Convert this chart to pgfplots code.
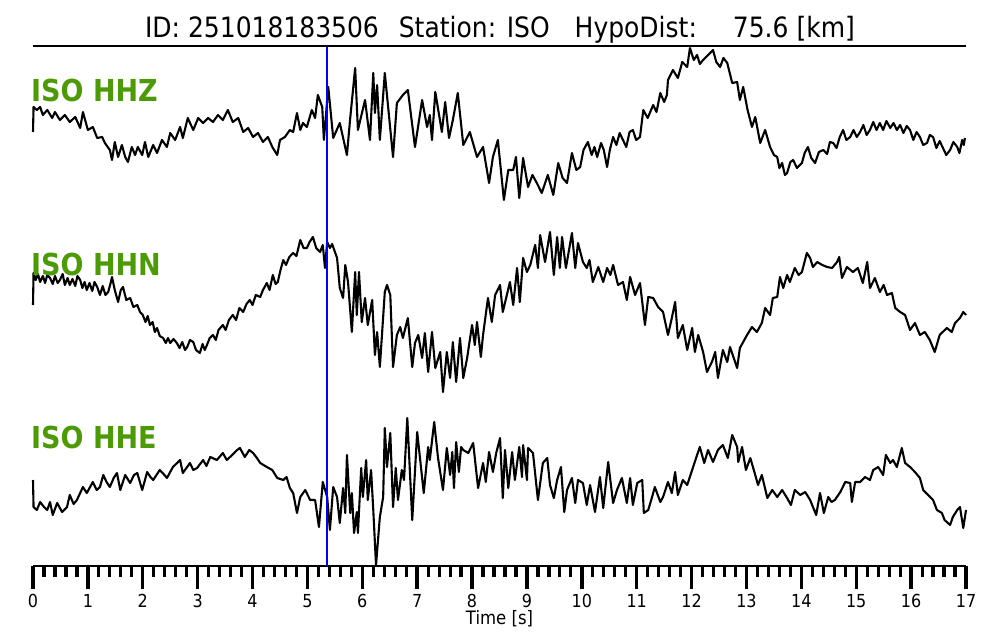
\documentclass[border=0pt]{standalone}
\usepackage{pgfplots}
\usepackage{pgfplotstable}
\usepackage{fontspec}
\setmainfont{DejaVu Sans}
\pgfplotsset{compat=1.18}
\definecolor{labgreen}{RGB}{76,154,6}

\pgfplotstableread{
t y
0.00 508
0.01 533
0.07 530
0.13 533
0.18 525
0.26 530
0.35 522
0.40 528
0.49 520
0.58 525
0.67 518
0.77 523
0.86 512
0.91 528
1.00 510
1.09 513
1.17 502
1.26 503
1.31 497
1.40 490
1.44 480
1.49 498
1.55 483
1.62 495
1.68 483
1.73 478
1.80 493
1.86 485
1.91 493
1.99 485
2.04 498
2.10 483
2.19 495
2.26 487
2.35 500
2.44 493
2.50 507
2.59 500
2.68 513
2.73 502
2.82 522
2.92 510
3.01 522
3.10 517
3.19 522
3.28 518
3.37 525
3.46 520
3.55 530
3.64 518
3.74 522
3.83 508
3.92 512
4.01 503
4.10 507
4.19 498
4.28 503
4.36 493
4.45 485
4.50 500
4.59 503
4.68 510
4.74 508
4.81 527
4.87 510
4.92 517
4.99 513
5.08 530
5.14 522
5.19 545
5.27 533
5.30 500
5.38 553
5.47 502
5.59 517
5.72 485
5.78 522
5.87 572
5.92 510
6.05 540
6.14 500
6.20 567
6.23 527
6.27 555
6.32 500
6.41 567
6.56 483
6.63 537
6.74 545
6.83 550
6.96 493
7.09 540
7.18 513
7.23 525
7.27 500
7.33 548
7.45 508
7.51 538
7.58 502
7.65 520
7.74 547
7.84 495
7.96 508
8.09 483
8.20 493
8.31 457
8.38 483
8.47 500
8.58 440
8.66 470
8.75 470
8.80 483
8.86 442
8.93 482
9.02 453
9.10 465
9.18 457
9.27 447
9.38 465
9.48 445
9.57 477
9.65 462
9.73 457
9.82 487
9.90 470
9.97 473
10.03 490
10.11 498
10.18 485
10.23 493
10.28 483
10.35 497
10.40 490
10.46 473
10.51 490
10.57 503
10.63 495
10.69 507
10.75 500
10.81 493
10.87 508
10.93 510
10.99 500
11.06 503
11.12 530
11.20 522
11.30 535
11.36 528
11.43 547
11.50 538
11.55 545
11.57 560
11.66 570
11.75 562
11.83 578
11.92 573
11.97 592
12.04 580
12.10 585
12.15 576
12.21 580
12.30 585
12.39 590
12.45 578
12.52 573
12.58 582
12.65 577
12.74 557
12.83 558
12.88 540
12.94 553
13.02 530
13.10 513
13.16 523
13.25 497
13.34 510
13.43 493
13.50 485
13.56 483
13.60 472
13.65 477
13.70 465
13.74 467
13.80 478
13.85 480
13.92 472
14.01 477
14.06 487
14.12 493
14.18 482
14.25 477
14.32 488
14.40 490
14.47 486
14.52 498
14.58 497
14.64 492
14.70 503
14.76 510
14.82 500
14.89 503
14.95 510
15.01 503
15.07 508
15.13 515
15.19 505
15.25 510
15.31 518
15.37 510
15.43 517
15.49 510
15.55 519
15.62 512
15.68 517
15.74 510
15.80 515
15.86 507
15.92 514
15.98 510
16.04 500
16.10 508
16.16 503
16.22 495
16.29 497
16.34 505
16.40 503
16.46 492
16.52 499
16.58 492
16.64 485
16.71 490
16.77 498
16.84 493
16.88 487
16.93 500
16.96 495
16.98 502
}\hhz

\pgfplotstableread{
t y
0.00 335
0.01 367
0.05 360
0.09 366
0.13 358
0.18 364
0.22 357
0.26 365
0.31 362
0.36 356
0.40 364
0.45 357
0.49 360
0.54 366
0.58 355
0.63 362
0.67 355
0.72 361
0.77 354
0.81 364
0.86 360
0.90 352
0.94 358
0.98 350
1.03 357
1.08 349
1.12 358
1.17 353
1.22 345
1.27 354
1.32 345
1.37 348
1.41 356
1.44 363
1.49 350
1.55 338
1.60 350
1.64 353
1.70 340
1.77 342
1.83 333
1.90 335
1.95 328
2.00 325
2.05 318
2.09 324
2.13 315
2.18 318
2.22 308
2.26 312
2.31 304
2.37 302
2.42 297
2.46 302
2.50 297
2.56 301
2.62 297
2.67 292
2.72 298
2.77 290
2.81 293
2.86 300
2.92 298
2.97 290
3.04 287
3.09 296
3.13 290
3.17 295
3.22 302
3.28 305
3.33 300
3.38 310
3.46 315
3.51 310
3.57 320
3.64 325
3.70 320
3.76 332
3.83 328
3.89 336
3.95 340
4.00 335
4.06 345
4.14 343
4.19 350
4.26 357
4.31 350
4.37 365
4.42 356
4.46 358
4.51 370
4.56 380
4.61 375
4.67 383
4.74 387
4.80 384
4.87 400
4.93 392
4.99 392
5.04 398
5.10 403
5.16 392
5.23 388
5.28 395
5.32 372
5.36 398
5.41 392
5.45 396
5.54 382
5.59 352
5.65 342
5.69 375
5.74 358
5.81 308
5.87 368
5.90 325
5.94 368
5.99 318
6.05 342
6.10 315
6.18 340
6.23 285
6.27 308
6.32 273
6.41 348
6.45 355
6.51 345
6.56 273
6.63 305
6.69 313
6.74 302
6.83 322
6.91 273
6.96 297
7.02 305
7.09 282
7.14 307
7.20 268
7.27 308
7.33 272
7.42 288
7.47 248
7.54 288
7.60 262
7.65 298
7.71 258
7.78 302
7.84 262
7.91 282
8.00 315
8.05 295
8.09 318
8.16 283
8.20 305
8.29 342
8.36 318
8.42 345
8.51 355
8.56 328
8.69 358
8.75 335
8.82 372
8.87 338
8.93 382
9.00 368
9.06 375
9.15 395
9.20 372
9.24 405
9.33 378
9.42 408
9.49 365
9.55 403
9.60 372
9.64 403
9.71 372
9.82 407
9.88 372
9.93 397
10.02 378
10.09 372
10.14 380
10.20 358
10.30 373
10.39 358
10.46 372
10.52 365
10.57 375
10.66 355
10.75 358
10.82 340
10.88 363
10.97 345
11.06 357
11.15 315
11.21 343
11.30 342
11.39 333
11.48 328
11.57 305
11.64 322
11.70 338
11.75 302
11.84 315
11.92 290
12.01 312
12.06 288
12.12 305
12.21 288
12.28 268
12.37 278
12.43 288
12.48 262
12.57 290
12.65 278
12.70 293
12.83 272
12.88 292
12.94 298
13.01 305
13.10 313
13.19 308
13.28 317
13.34 332
13.43 325
13.48 342
13.56 343
13.61 363
13.67 352
13.74 365
13.79 358
13.88 372
13.95 365
14.01 368
14.10 387
14.16 382
14.21 373
14.29 378
14.38 375
14.47 373
14.56 372
14.65 378
14.69 383
14.74 362
14.83 373
14.94 368
15.03 372
15.12 357
15.20 378
15.25 352
15.34 362
15.43 348
15.50 355
15.56 345
15.65 347
15.71 332
15.80 328
15.89 325
15.98 310
16.07 317
16.16 305
16.25 308
16.34 300
16.43 288
16.52 305
16.65 312
16.74 308
16.80 317
16.89 322
16.95 328
17.00 325
}\hhn

\pgfplotstableread{
t y
0.00 160
0.01 133
0.07 130
0.13 138
0.20 133
0.26 130
0.31 138
0.36 125
0.44 137
0.53 128
0.62 133
0.67 145
0.74 136
0.80 140
0.91 153
0.98 147
1.09 158
1.16 150
1.22 153
1.28 165
1.34 158
1.40 153
1.47 162
1.53 167
1.59 150
1.68 165
1.77 157
1.84 165
1.90 167
1.99 150
2.08 168
2.14 163
2.19 160
2.31 170
2.38 166
2.44 162
2.55 173
2.68 180
2.73 167
2.86 177
2.92 170
2.99 172
3.10 180
3.16 174
3.23 183
3.35 180
3.46 187
3.53 180
3.59 183
3.72 190
3.77 192
3.86 183
3.94 190
4.01 187
4.08 182
4.14 177
4.26 173
4.36 170
4.45 162
4.56 160
4.62 163
4.68 152
4.74 147
4.81 127
4.87 143
4.96 150
5.05 140
5.14 140
5.21 113
5.28 158
5.36 143
5.41 110
5.47 153
5.54 143
5.59 117
5.65 152
5.69 127
5.72 185
5.78 127
5.81 147
5.85 107
5.90 128
5.92 107
5.98 172
6.01 143
6.07 180
6.10 140
6.16 170
6.20 130
6.25 75
6.32 123
6.38 143
6.41 212
6.45 173
6.51 207
6.56 133
6.61 172
6.65 140
6.72 170
6.76 160
6.82 222
6.91 120
7.00 208
7.12 147
7.20 193
7.23 180
7.31 218
7.38 182
7.47 150
7.54 192
7.60 165
7.64 188
7.67 152
7.71 198
7.76 168
7.80 193
7.84 190
7.93 187
8.02 197
8.11 152
8.20 177
8.25 158
8.31 188
8.38 168
8.44 187
8.51 202
8.56 142
8.60 190
8.66 152
8.73 188
8.78 160
8.86 193
8.91 163
8.93 195
9.00 160
9.02 192
9.11 187
9.20 140
9.29 177
9.37 182
9.42 155
9.49 142
9.55 160
9.62 173
9.68 128
9.73 150
9.82 162
9.88 137
9.93 160
10.02 157
10.09 135
10.15 155
10.24 128
10.33 163
10.39 132
10.48 178
10.57 137
10.64 150
10.73 162
10.82 137
10.88 162
10.93 135
11.01 157
11.10 160
11.13 127
11.21 130
11.28 143
11.33 153
11.43 138
11.48 143
11.57 158
11.64 147
11.70 168
11.75 145
11.84 160
11.92 155
12.01 170
12.10 185
12.15 193
12.23 177
12.30 190
12.39 178
12.48 190
12.57 195
12.66 182
12.74 205
12.83 193
12.85 178
12.92 193
12.99 170
13.07 182
13.16 165
13.21 155
13.28 165
13.38 142
13.47 150
13.56 143
13.65 150
13.74 142
13.81 135
13.88 150
13.98 145
14.07 148
14.16 140
14.27 125
14.34 147
14.41 127
14.49 143
14.55 138
14.61 140
14.71 148
14.80 158
14.89 157
14.92 138
14.98 158
15.07 158
15.16 163
15.25 160
15.31 170
15.40 173
15.49 165
15.54 185
15.62 177
15.67 180
15.74 173
15.83 192
15.89 177
15.98 173
16.07 168
16.16 162
16.22 150
16.31 145
16.40 140
16.47 130
16.56 127
16.61 120
16.71 115
16.76 123
16.84 130
16.89 133
16.95 112
17.00 130
}\hhe

\begin{document}
\begin{tikzpicture}
\useasboundingbox (0,0) rectangle (1000pt,640pt);
\begin{axis}[
  at={(33pt,74pt)}, anchor=south west,
  scale only axis, width=933pt, height=520pt,
  xmin=0, xmax=17, ymin=74, ymax=594,
  axis x line*=bottom, axis y line=none,
  clip=false,
  xtick={0,1,...,17}, minor x tick num=4,
  tick align=outside,
  major tick length=23pt, minor tick length=11pt,
  major tick style={black, line width=3.4pt},
  minor tick style={black, line width=3.2pt},
  x axis line style={line width=2.6pt},
  /pgf/number format/assume math mode=true,
  xticklabel={\scalebox{1}[1.12]{\pgfmathprintnumber{\tick}}},
  xticklabel style={font=\fontsize{16}{16}\selectfont, inner sep=0pt, yshift=-5pt},
  xlabel={\scalebox{1}[1.12]{Time [s]}},
  every axis x label/.style={at={(axis description cs:0.5,0)}, anchor=base, inner sep=0pt, yshift=-58pt, font=\fontsize{16.5}{16.5}\selectfont},
]
\addplot[black, line width=2.1pt, line join=round] table[x=t, y=y] {\hhz};
\addplot[black, line width=2.1pt, line join=round] table[x=t, y=y] {\hhn};
\addplot[black, line width=2.1pt, line join=round] table[x=t, y=y] {\hhe};
\addplot[color={rgb,255:red,0;green,0;blue,255}, line width=2pt] coordinates {(5.36,74) (5.36,594)};
\addplot[black, line width=2pt] coordinates {(0,594) (17,594)};
\end{axis}
\node[anchor=base, inner sep=0pt, font=\fontsize{25}{25}\selectfont] at (500pt,602pt)
  {\scalebox{1}[1.12]{ID: 251018183506\hspace{20pt}Station: ISO\hspace{25pt}HypoDist:\hspace{36pt}75.6 [km]}};
\node[anchor=base west, inner sep=0pt, text=labgreen, font=\fontsize{27}{27}\selectfont\bfseries] at (31pt,538pt) {\scalebox{1}[1.12]{ISO HHZ}};
\node[anchor=base west, inner sep=0pt, text=labgreen, font=\fontsize{27}{27}\selectfont\bfseries] at (31pt,364pt) {\scalebox{1}[1.12]{ISO HHN}};
\node[anchor=base west, inner sep=0pt, text=labgreen, font=\fontsize{27}{27}\selectfont\bfseries] at (31pt,192pt) {\scalebox{1}[1.12]{ISO HHE}};
\end{tikzpicture}
\end{document}
